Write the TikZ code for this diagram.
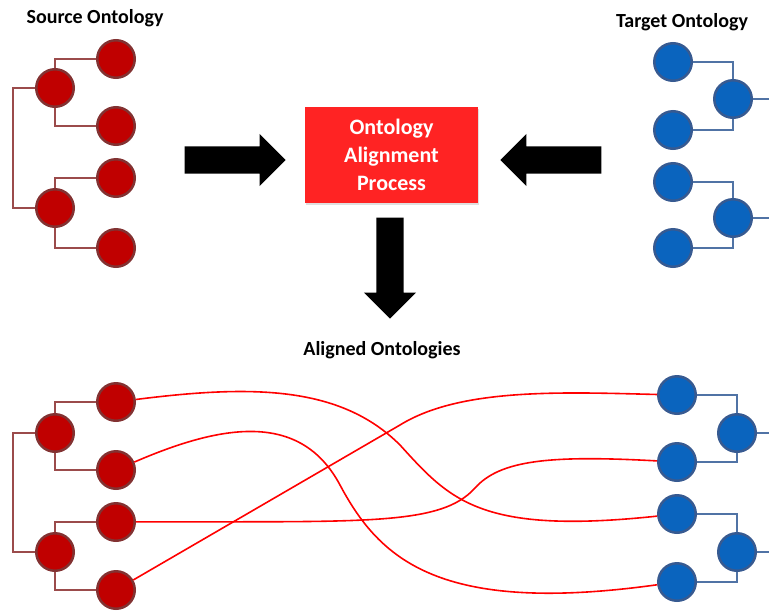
\documentclass[tikz,border=0pt]{standalone}
\usepackage{fontspec}
\setmainfont{Carlito}
\usetikzlibrary{shapes.arrows,shadows}
\definecolor{srcfill}{RGB}{192,0,0}
\definecolor{srcline}{RGB}{130,50,50}
\definecolor{srcbar}{RGB}{155,75,75}
\definecolor{tgtfill}{RGB}{10,100,190}
\definecolor{tgtline}{RGB}{55,90,145}
\definecolor{tgtbar}{RGB}{80,115,165}
\definecolor{procred}{RGB}{255,35,35}

\begin{document}
\begin{tikzpicture} [x=1pt, y=-1pt,
	src/.style={circle, fill=srcfill, draw=srcline, line width=2.5pt, minimum size=37.5pt, inner sep=0pt},
	tgt/.style={circle, fill=tgtfill, draw=tgtline, line width=2.5pt, minimum size=37.5pt, inner sep=0pt},
	sbar/.style={draw=srcbar, line width=2pt},
	tbar/.style={draw=tgtbar, line width=2pt},
	title/.style={font=\fontsize{20}{24}\selectfont\bfseries, anchor=base},
	proc/.style={fill=procred, text=white, align=center, minimum width=173pt, minimum height=96pt,
		font=\fontsize{22}{28}\selectfont\bfseries, drop shadow={opacity=0.25, shadow xshift=1pt, shadow yshift=-2pt}},
	fat/.style={single arrow, fill=black, inner sep=13.5pt, minimum width=52pt, minimum height=101pt, single arrow head extend=12.5pt, anchor=tip},
	match/.style={draw=red, line width=1.6pt}]
\useasboundingbox (0,0) rectangle (769,611);

\node[title] (s-title) at (95,23) {Source Ontology};
\node[title] (t-title) at (682,27) {Target Ontology};
\node[title] (a-title) at (382,355) {Aligned Ontologies};

\node[src] (s-1) at (116,59) {};
\node[src] (s-2) at (116,126) {};
\node[src] (s-3) at (116,178) {};
\node[src] (s-4) at (116,248) {};
\node[src] (s-a) at (55,88) {};
\node[src] (s-b) at (55,208) {};
\draw[sbar] (s-a.north) |- (s-1.west);
\draw[sbar] (s-a.south) |- (s-2.west);
\draw[sbar] (s-b.north) |- (s-3.west);
\draw[sbar] (s-b.south) |- (s-4.west);
\draw[sbar] (s-a.west) -- ++(-22,0) |- (s-b.west);

\node[tgt] (t-1) at (673,62) {};
\node[tgt] (t-2) at (673,130) {};
\node[tgt] (t-3) at (673,182) {};
\node[tgt] (t-4) at (673,248) {};
\node[tgt] (t-a) at (733,99) {};
\node[tgt] (t-b) at (733,218) {};
\draw[tbar] (t-1.east) -| (t-a.north);
\draw[tbar] (t-2.east) -| (t-a.south);
\draw[tbar] (t-3.east) -| (t-b.north);
\draw[tbar] (t-4.east) -| (t-b.south);
\draw[tbar] (t-a.east) -- ++(20,0);
\draw[tbar] (t-b.east) -- ++(20,0);

\node[proc] (p) at (391.5,155) {Ontology\\Alignment\\Process};
\node[fat] (l-arr) at (286,160) {};
\node[fat, shape border rotate=180] (r-arr) at (500,160) {};
\node[fat, shape border rotate=270] (d-arr) at (390,319) {};

\node[src] (as-1) at (116,402) {};
\node[src] (as-2) at (116,470) {};
\node[src] (as-3) at (116,522) {};
\node[src] (as-4) at (116,590) {};
\node[src] (as-a) at (55,433) {};
\node[src] (as-b) at (55,552) {};
\draw[sbar] (as-a.north) |- (as-1.west);
\draw[sbar] (as-a.south) |- (as-2.west);
\draw[sbar] (as-b.north) |- (as-3.west);
\draw[sbar] (as-b.south) |- (as-4.west);
\draw[sbar] (as-a.west) -- ++(-22,0) |- (as-b.west);

\node[tgt] (at-1) at (677,395) {};
\node[tgt] (at-2) at (677,462) {};
\node[tgt] (at-3) at (677,514) {};
\node[tgt] (at-4) at (677,582) {};
\node[tgt] (at-a) at (737,433) {};
\node[tgt] (at-b) at (737,552) {};
\draw[tbar] (at-1.east) -| (at-a.north);
\draw[tbar] (at-2.east) -| (at-a.south);
\draw[tbar] (at-3.east) -| (at-b.north);
\draw[tbar] (at-4.east) -| (at-b.south);
\draw[tbar] (at-a.east) -- ++(20,0);
\draw[tbar] (at-b.east) -- ++(20,0);

\draw[match] (as-1) .. controls (250,385) and (340,385) .. (400,445) .. controls (450,500) and (480,535) .. (at-3);
\draw[match] (as-2) .. controls (220,425) and (300,410) .. (340,485) .. controls (380,560) and (440,615) .. (at-4);
\draw[match] (as-3) .. controls (360,521) and (440,527) .. (475,488) .. controls (500,460) and (550,455) .. (at-2);
\draw[match] (as-4) -- (400,425) .. controls (460,388) and (560,392) .. (at-1);
\end{tikzpicture}
\end{document}
